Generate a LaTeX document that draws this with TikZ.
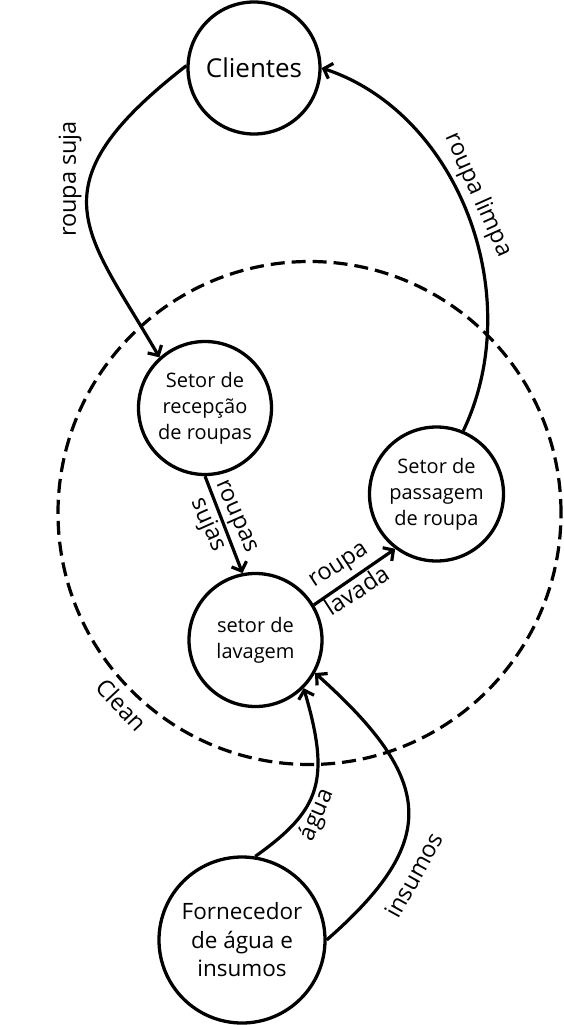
\documentclass[tikz,border=0pt]{standalone}
\usepackage{fontspec}
\setmainfont{Open Sans}
\usetikzlibrary{arrows.meta}
\begin{document}
\begin{tikzpicture}[x=1pt,y=-1pt,
  sector/.style={circle,draw,line width=3.3pt,inner sep=0pt,align=center,font=\fontsize{20}{26}\selectfont},
  flow/.style={line width=3.2pt,-{Straight Barb[length=7.5pt,width=16pt]}},
  lbl/.style={font=\fontsize{23.5}{27}\selectfont,inner sep=0pt},
  zone/.style={circle,draw,line width=3.2pt,dash pattern=on 14pt off 7pt,inner sep=0pt}]
\useasboundingbox (0,0) rectangle (564,1025);
\node[zone,minimum size=503pt] (clean) at (309.5,513) {};
\node[sector,minimum size=132pt,font=\fontsize{26}{30}\selectfont] (cli) at (254,68) {Clientes};
\node[sector,minimum size=133pt] (rec) at (205,408) {Setor de\\recepção\\de roupas};
\node[sector,minimum size=134pt] (pas) at (436.5,494) {Setor de\\passagem\\de roupa};
\node[sector,minimum size=133pt] (lav) at (255.5,640) {setor de\\lavagem};
\node[sector,minimum size=166pt,font=\fontsize{22.5}{28.5}\selectfont] (for) at (242,940) {Fornecedor\\de água e\\insumos};
\draw[flow] (cli.178) .. controls (30,187) and (87,232) .. (rec.132);
\draw[flow] (pas.67) .. controls (528,295) and (458,113) .. (cli.east);
\draw[flow] (rec.south) -- (lav.101);
\draw[flow] (lav.31) -- (pas.233);
\draw[flow] (for.81) .. controls (320.8,809.8) and (330.7,780.3) .. (lav.315);
\draw[flow] (for.east) .. controls (439.5,841) and (435.7,781) .. (lav.331);
\node[lbl,rotate=90] (lsuja) at (70,179) {roupa suja};
\node[lbl,rotate=-66] (llimpa) at (478,195) {roupa limpa};
\node[lbl,rotate=-66] (lroupas) at (235,517) {roupas};
\node[lbl,rotate=-66] (lsujas) at (208,525) {sujas};
\node[lbl,rotate=33] (lroupa) at (340,567) {roupa};
\node[lbl,rotate=33] (llavada) at (357,590) {lavada};
\node[lbl,rotate=67] (lagua) at (317,815) {água};
\node[lbl,rotate=61] (linsumos) at (414,875) {insumos};
\node[lbl,rotate=-47] (lclean) at (122,705) {Clean};
\end{tikzpicture}
\end{document}
